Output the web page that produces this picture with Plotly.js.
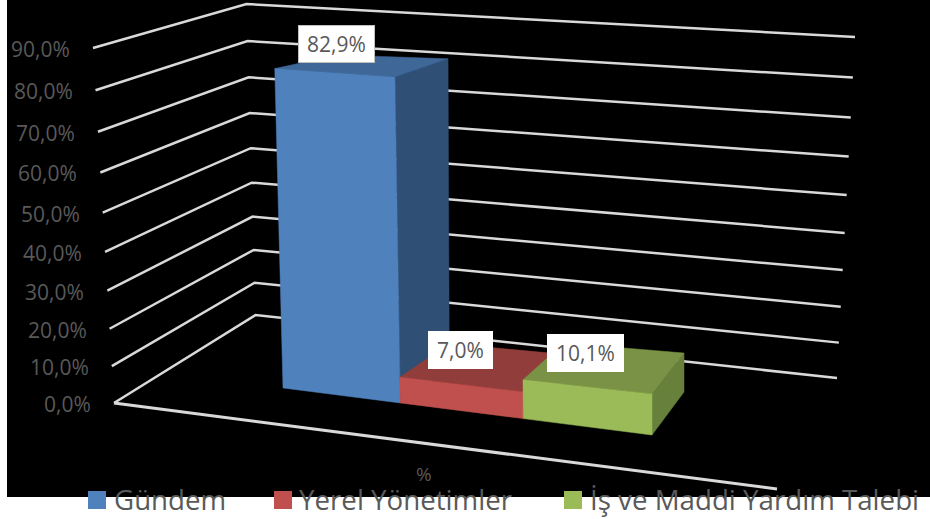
<!DOCTYPE html>
<html>
<head>
<meta charset="utf-8">
<script src="https://cdn.plot.ly/plotly-3.0.1.min.js"></script>
<style>html,body{margin:0;padding:0;background:#fff}#chart{width:930px;height:519px}</style>
</head>
<body>
<div id="chart"></div>
<script>
// ---- data ----
const categories = ['Gündem', 'Yerel Yönetimler', 'İş ve Maddi Yardım Talebi'];
const values = [82.9, 7.0, 10.1];
const valueLabels = ['82,9%', '7,0%', '10,1%'];
const tickValues = [0, 10, 20, 30, 40, 50, 60, 70, 80, 90];
const tickLabels = ['0,0%', '10,0%', '20,0%', '30,0%', '40,0%', '50,0%', '60,0%', '70,0%', '80,0%', '90,0%'];
const axisTitle = '%';

// ---- styles ----
const frontColors = ['#4F81BD', '#C0504D', '#9BBB59'];
const topColors = ['#3F6797', '#903D3B', '#7A9245'];
const sideColors = ['#2F4F75', '#7A3230', '#67803C'];
const gridColor = '#D9D9D9';
const textColor = '#595959';
const fontFamily = '"Open Sans", sans-serif';

// ---- perspective frame (page pixels) ----
const wallFloor = {A: [114, 403], B: [255.5, 315], C: [837, 378], D: [777, 489]};
const wallTop = {A: [93, 48], B: [246.5, 4], C: [855, 37]};
const persp = 0.08;
const rise = v => { const u = v / 90; return u / (1 + persp * (1 - u)); };
const wall = (k, v) => [0, 1].map(i => wallFloor[k][i] + rise(v) * (wallTop[k][i] - wallFloor[k][i]));

// bar floor strip: front/back edges, and the full-scale height and lean across it
const strip = {F0: [283, 388], F3: [652, 435], K0: [340, 357], K3: [684, 392]};
const frontHeight = w => 349 + 12.2 * w + 30.8 * w * w;
const backHeight = w => 330 + 17 * w + 25 * w * w;
const leanAt = {F0: -9, F3: 1, K0: -2, K3: 0};
const warp = t => { const u = t / 3; return u * (1 - 0.07 * (1 - u)); };
const mix = (a, b, s) => a + (b - a) * s;
function project(t, d, v) {
  const w = warp(t);
  const fx = mix(strip.F0[0], strip.F3[0], w), fy = mix(strip.F0[1], strip.F3[1], w);
  const kx = mix(strip.K0[0], strip.K3[0], w), ky = mix(strip.K0[1], strip.K3[1], w);
  const h = mix(frontHeight(w), backHeight(w), d);
  const l = mix(mix(leanAt.F0, leanAt.F3, w), mix(leanAt.K0, leanAt.K3, w), d);
  return [mix(fx, kx, d) + l * rise(v), mix(fy, ky, d) - h * rise(v)];
}

// ---- traces ----
const traces = [];
function line(pts, width) {
  traces.push({type: 'scatter', mode: 'lines', x: pts.map(p => p[0]), y: pts.map(p => p[1]),
    line: {color: gridColor, width: width}, hoverinfo: 'skip', showlegend: false});
}
function face(pts, color, name) {
  const c = pts.concat([pts[0]]);
  traces.push({type: 'scatter', mode: 'lines', x: c.map(p => p[0]), y: c.map(p => p[1]),
    fill: 'toself', fillcolor: color, line: {color: color, width: 0.5}, name: name,
    hoverinfo: 'skip', showlegend: false});
}
tickValues.forEach(v => line([wall('A', v), wall('B', v), wall('C', v)], 2.5));
line([wallFloor.A, wallFloor.D], 3);

values.forEach((v, i) => {
  const t0 = i, t1 = i + 1;
  face([project(t1, 0, 0), project(t1, 1, 0), project(t1, 1, v), project(t1, 0, v)], sideColors[i], categories[i]);
  face([project(t0, 0, v), project(t1, 0, v), project(t1, 1, v), project(t0, 1, v)], topColors[i], categories[i]);
  face([project(t0, 0, 0), project(t1, 0, 0), project(t1, 0, v), project(t0, 0, v)], frontColors[i], categories[i]);
});

// legend swatches
const legendSwatchX = [97, 283, 573];
const legendTextX = [112, 297, 588];
const legendY = 499;
traces.push({type: 'scatter', mode: 'markers', x: legendSwatchX, y: categories.map(() => legendY + 1),
  marker: {symbol: 'square', size: 18, color: frontColors, line: {width: 0}},
  hoverinfo: 'skip', showlegend: false});

// ---- text ----
const annotations = [];
tickValues.forEach((v, i) => {
  const p = wall('A', v);
  annotations.push({x: p[0] - 21, y: p[1] + 1, text: tickLabels[i], xanchor: 'right', yanchor: 'middle',
    showarrow: false, font: {family: fontFamily, size: 21, color: textColor}});
});
const labelBoxes = [[336.5, 44, 75, 36], [460, 350, 63, 36], [585, 353, 75, 36]];
values.forEach((v, i) => {
  const b = labelBoxes[i];
  annotations.push({x: b[0], y: b[1], text: valueLabels[i], xanchor: 'center', yanchor: 'middle',
    width: b[2], height: b[3], align: 'center', valign: 'middle', borderpad: 0, showarrow: false,
    bgcolor: '#FFFFFF', bordercolor: i === 0 ? '#BFBFBF' : '#FFFFFF', borderwidth: 1,
    font: {family: fontFamily, size: 21, color: textColor}});
});
annotations.push({x: 424, y: 474, text: axisTitle, xanchor: 'center', yanchor: 'middle', showarrow: false,
  font: {family: fontFamily, size: 19, color: textColor}});
categories.forEach((c, i) => {
  annotations.push({x: legendTextX[i], y: legendY, text: c, xanchor: 'left', yanchor: 'middle', showarrow: false,
    font: {family: fontFamily, size: 27.7, color: textColor}});
});

const layout = {
  width: 930, height: 519, margin: {l: 0, r: 0, t: 0, b: 0},
  paper_bgcolor: '#FFFFFF', plot_bgcolor: '#FFFFFF', showlegend: false,
  xaxis: {range: [0, 930], visible: false, fixedrange: true},
  yaxis: {range: [519, 0], visible: false, fixedrange: true},
  shapes: [{type: 'rect', xref: 'x', yref: 'y', x0: 7, x1: 930, y0: 0, y1: 497, fillcolor: '#000000', line: {width: 0}, layer: 'below'}],
  annotations: annotations
};
Plotly.newPlot('chart', traces, layout, {displayModeBar: false, staticPlot: true});
</script>
</body>
</html>
